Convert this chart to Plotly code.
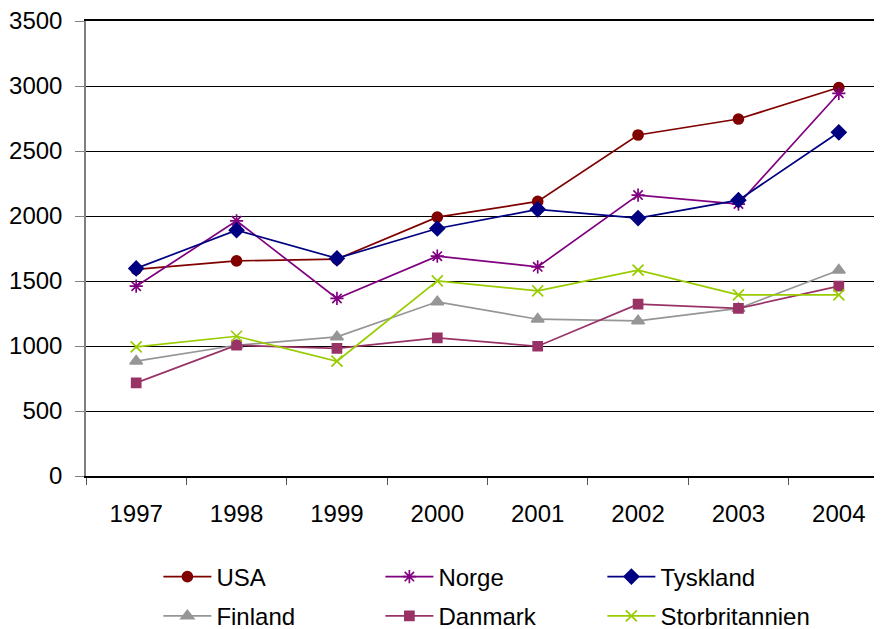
import plotly.graph_objects as go

years = ["1997", "1998", "1999", "2000", "2001", "2002", "2003", "2004"]
y_ticks = [0, 500, 1000, 1500, 2000, 2500, 3000, 3500]

usa = [1590, 1655, 1668, 1991, 2112, 2623, 2746, 2988]
norge = [1460, 1963, 1366, 1691, 1609, 2161, 2092, 2944]
tyskland = [1597, 1891, 1674, 1904, 2051, 1984, 2122, 2644]
finland = [883, 1006, 1070, 1340, 1206, 1193, 1289, 1583]
danmark = [716, 1006, 981, 1062, 998, 1322, 1289, 1460]
storbritannien = [993, 1075, 883, 1501, 1424, 1583, 1393, 1393]

# name, values, colour, marker, size, legend row
series = [
    ("USA", usa, "#800000", "circle", 10, "legend"),
    ("Norge", norge, "#800080", "asterisk-open", 11, "legend"),
    ("Tyskland", tyskland, "#000080", "diamond", 11, "legend"),
    ("Finland", finland, "#969696", "triangle-up", 11, "legend2"),
    ("Danmark", danmark, "#993366", "square", 9, "legend2"),
    ("Storbritannien", storbritannien, "#99CC00", "x-thin-open", 11, "legend2"),
]

fig = go.Figure()
for name, vals, color, symbol, size, leg in series:
    fig.add_trace(go.Scatter(
        x=years, y=vals, name=name, mode="lines+markers", legend=leg,
        line=dict(color=color, width=1.7),
        marker=dict(symbol=symbol, size=size, color=color,
                    line=dict(color=color, width=1.7)),
    ))

legend_style = dict(
    orientation="h", xref="container", yref="container",
    x=0.1705, xanchor="left", yanchor="middle",
    entrywidth=159, itemwidth=48, font=dict(size=24),
    traceorder="normal", bgcolor="rgba(0,0,0,0)",
)

# the page body adds an 8px offset, so margins are trimmed by that much
fig.update_layout(
    width=882, height=629,
    margin=dict(l=78, r=1, t=13, b=161),
    plot_bgcolor="white", paper_bgcolor="white",
    font=dict(family="Liberation Sans, Arial, sans-serif", size=24, color="black"),
    showlegend=True,
    legend=dict(legend_style, y=0.0954),
    legend2=dict(legend_style, y=0.033),
)
fig.update_xaxes(
    type="category", range=[-0.5, 7.5], automargin=False,
    showline=True, mirror=True, linecolor="black", linewidth=1.5,
    ticks="outside", tickson="boundaries", ticklen=7, tickcolor="#555",
    ticklabelstandoff=15,
    showgrid=False, tickfont=dict(size=24),
)
fig.update_yaxes(
    range=[0, 3500], tickmode="array", tickvals=y_ticks, automargin=False,
    showline=True, linecolor="#808080", linewidth=1.5,
    ticks="outside", ticklen=9, tickcolor="#808080",
    ticklabelstandoff=8, ticklabeloverflow="allow",
    showgrid=True, gridcolor="black", gridwidth=1,
    zeroline=False, tickfont=dict(size=24),
)

fig.write_html("out.html")
